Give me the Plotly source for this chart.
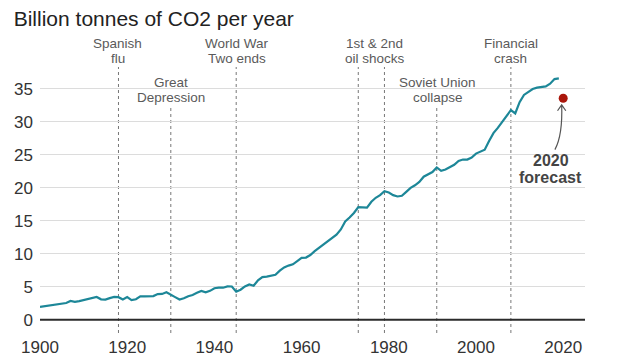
import plotly.graph_objects as go

years = list(range(1900, 2020))
emissions = [
    1.95, 2.06, 2.11, 2.30, 2.30, 2.42, 2.55, 2.85, 2.73, 2.84,
    2.99, 3.05, 3.20, 3.46, 3.11, 3.07, 3.29, 3.47, 3.43, 3.07,
    3.45, 2.99, 3.12, 3.56, 3.54, 3.62, 3.60, 3.90, 3.92, 4.17,
    3.86, 3.44, 3.07, 3.26, 3.58, 3.77, 4.10, 4.38, 4.16, 4.39,
    4.79, 4.89, 4.87, 5.06, 5.05, 4.27, 4.56, 5.06, 5.36, 5.17,
    6.00, 6.48, 6.56, 6.73, 6.82, 7.45, 7.95, 8.22, 8.42, 8.90,
    9.39, 9.44, 9.82, 10.4, 10.9, 11.4, 11.9, 12.3, 12.9, 13.7,
    14.9, 15.5, 16.2, 17.1, 17.0, 17.0, 17.9, 18.5, 18.9, 19.5,
    19.3, 18.9, 18.7, 18.8, 19.4, 20.0, 20.4, 20.9, 21.7, 22.1,
    22.4, 23.1, 22.6, 22.8, 23.1, 23.5, 24.1, 24.3, 24.3, 24.6,
    25.2, 25.5, 25.8, 27.1, 28.3, 29.1, 30.0, 30.9, 31.8, 31.3,
    33.0, 34.1, 34.6, 35.0, 35.2, 35.3, 35.4, 35.8, 36.5, 36.6,
]
forecast_year = [2020]
forecast_value = [33.6]

event_years = [1918, 1930, 1945, 1973, 1979, 1991, 2008]
event_high = [True, False, True, True, True, False, True]
top_labels = [(1917.8, ["Spanish", "flu"]), (1945.1, ["World War", "Two ends"]),
              (1976.8, ["1st &amp; 2nd", "oil shocks"]), (2008, ["Financial", "crash"])]
mid_labels = [(1930, ["Great", "Depression"]), (1991.2, ["Soviet Union", "collapse"])]
y_ticks = [0, 5, 10, 15, 20, 25, 30, 35]
x_ticks = [1900, 1920, 1940, 1960, 1980, 2000, 2020]

FONT = "Liberation Sans, Arial"
W, H = 632, 352           # page has an 8px body margin
L, R, T, B = 32, 55, 48, 27
PH = H - T - B


def paper_y(page_y):
    return (H - B + 8 - page_y) / PH


fig = go.Figure()
fig.add_trace(go.Scatter(x=years, y=emissions, mode="lines",
                         line=dict(color="#1d8798", width=2.2), hoverinfo="skip"))
fig.add_trace(go.Scatter(x=forecast_year, y=forecast_value, mode="markers",
                         marker=dict(color="#aa160b", size=9), hoverinfo="skip"))

shapes = []
shapes.append(dict(type="line", xref="x", yref="y", x0=1900, x1=2025, y0=0, y1=0,
                   line=dict(color="#2b2b2b", width=2), layer="above"))
for ex, high in zip(event_years, event_high):
    shapes.append(dict(type="line", xref="x", yref="paper", x0=ex, x1=ex, y0=0,
                       y1=paper_y(67 if high else 105),
                       line=dict(color="#777", width=1, dash="dot"), layer="below"))
shapes.append(dict(type="path", xref="x", yref="y",
                   path="M 2018.1,25.8 Q 2019.9,28.0 2019.65,32.6 "
                        "M 2018.7,31.7 L 2019.65,32.6 L 2020.6,31.7",
                   line=dict(color="#555", width=1.2)))

annotations = []
for x, lines in top_labels:
    for txt, py in zip(lines, [43, 58]):
        annotations.append(dict(x=x, y=paper_y(py), xref="x", yref="paper", text=txt,
                                showarrow=False, yanchor="middle",
                                font=dict(size=13.5, color="#5a5a5a", family=FONT)))
for x, lines in mid_labels:
    shapes.append(dict(type="rect", xref="x", yref="paper",
                       x0=x - 9.0, x1=x + 9.0, y0=paper_y(105), y1=paper_y(72),
                       fillcolor="white", line=dict(width=0), layer="below"))
    for txt, py in zip(lines, [82.5, 97.5]):
        annotations.append(dict(x=x, y=paper_y(py), xref="x", yref="paper", text=txt,
                                showarrow=False, yanchor="middle",
                                font=dict(size=13.5, color="#5a5a5a", family=FONT)))
for txt, py in zip(["2020", "forecast"], [160, 177]):
    annotations.append(dict(x=2017.2, y=paper_y(py), xref="x", yref="paper",
                            text="<b>" + txt + "</b>", showarrow=False, yanchor="middle",
                            font=dict(size=16, color="#444", family=FONT)))

fig.update_layout(
    width=W, height=H,
    margin=dict(l=L, r=R, t=T, b=B, pad=0),
    paper_bgcolor="white", plot_bgcolor="white",
    showlegend=False,
    font=dict(family=FONT, color="#333"),
    title=dict(text="Billion tonnes of CO2 per year", x=0.009, xanchor="left",
               y=0.969, yanchor="middle", font=dict(size=21, color="#222")),
    xaxis=dict(range=[1900, 2025], tickvals=x_ticks, showgrid=False, zeroline=False,
               showline=False, ticks="", automargin=False, ticklabelstandoff=2,
               tickfont=dict(size=17, color="#333")),
    yaxis=dict(range=[-2, 40], tickvals=y_ticks, showgrid=True, gridcolor="#dcdcdc",
               gridwidth=1, zeroline=False, showline=False, ticks="", automargin=False,
               ticklabelstandoff=6, tickfont=dict(size=17, color="#333")),
    shapes=shapes, annotations=annotations,
)
fig.write_html("out.html")
